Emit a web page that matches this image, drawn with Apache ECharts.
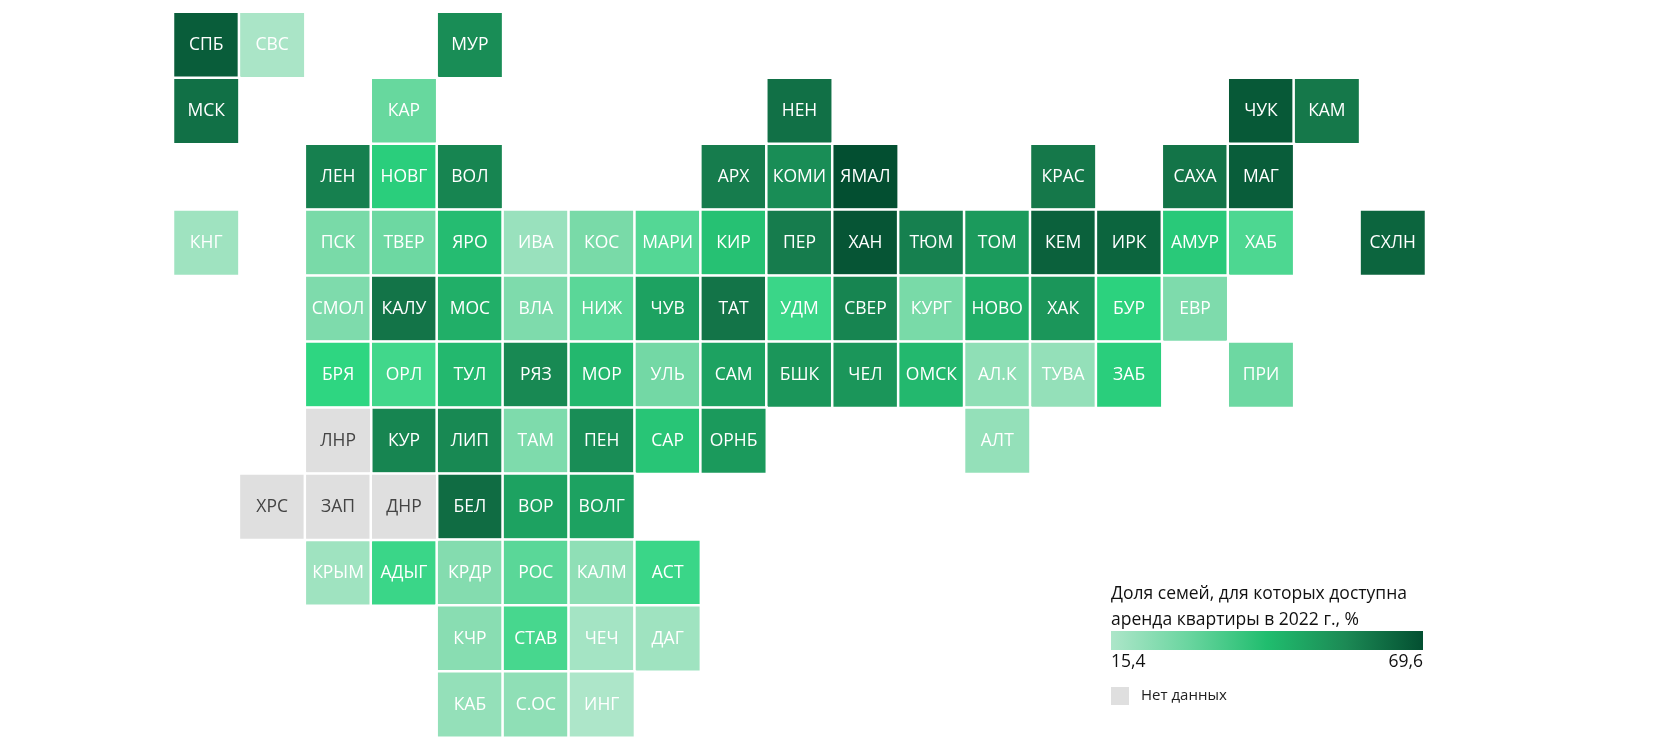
<!DOCTYPE html>
<html>
<head>
<meta charset="utf-8">
<style>
html,body{margin:0;padding:0;background:#fff}
#chart{width:1659px;height:750px}
</style>
<script src="https://cdn.jsdelivr.net/npm/echarts@6/dist/echarts.min.js"></script>
</head>
<body>
<div id="chart"></div>
<script>
// подписи, колонка и ряд плитки, значение (null - нет данных)
var regionNames = ['СПБ','СВС','МУР',
    'МСК','КАР','НЕН','ЧУК','КАМ',
    'ЛЕН','НОВГ','ВОЛ','АРХ','КОМИ','ЯМАЛ','КРАС','САХА','МАГ',
    'КНГ','ПСК','ТВЕР','ЯРО','ИВА','КОС','МАРИ','КИР','ПЕР','ХАН','ТЮМ','ТОМ','КЕМ','ИРК','АМУР','ХАБ','СХЛН',
    'СМОЛ','КАЛУ','МОС','ВЛА','НИЖ','ЧУВ','ТАТ','УДМ','СВЕР','КУРГ','НОВО','ХАК','БУР','ЕВР',
    'БРЯ','ОРЛ','ТУЛ','РЯЗ','МОР','УЛЬ','САМ','БШК','ЧЕЛ','ОМСК','АЛ.К','ТУВА','ЗАБ','ПРИ',
    'ЛНР','КУР','ЛИП','ТАМ','ПЕН','САР','ОРНБ','АЛТ',
    'ХРС','ЗАП','ДНР','БЕЛ','ВОР','ВОЛГ',
    'КРЫМ','АДЫГ','КРДР','РОС','КАЛМ','АСТ',
    'КЧР','СТАВ','ЧЕЧ','ДАГ',
    'КАБ','С.ОС','ИНГ'];
var regionCols = [0,1,4,
    0,3,9,16,17,
    2,3,4,8,9,10,13,15,16,
    0,2,3,4,5,6,7,8,9,10,11,12,13,14,15,16,18,
    2,3,4,5,6,7,8,9,10,11,12,13,14,15,
    2,3,4,5,6,7,8,9,10,11,12,13,14,16,
    2,3,4,5,6,7,8,12,
    1,2,3,4,5,6,
    2,3,4,5,6,7,
    4,5,6,7,
    4,5,6];
var regionRows = [0,0,0,
    1,1,1,1,1,
    2,2,2,2,2,2,2,2,2,
    3,3,3,3,3,3,3,3,3,3,3,3,3,3,3,3,3,
    4,4,4,4,4,4,4,4,4,4,4,4,4,4,
    5,5,5,5,5,5,5,5,5,5,5,5,5,5,
    6,6,6,6,6,6,6,6,
    7,7,7,7,7,7,
    8,8,8,8,8,8,
    9,9,9,9,
    10,10,10];
var regionValues = [66,16,54,
    61,28,61,67,59,
    57,39,56,58,54,69.6,59,60,66,
    18,25,27,43,19,25,31,42,58,68,57,51,65,64,40,32,64,
    24,60,46,24,30,49,60,35,56,25,46,52,38,24,
    37,34,44,55,44,26,49,52,52,44,21,20,39,27,
    null,56,55,24,54,41,51,20,
    null,null,null,62,49,49,
    18,35,23,30,21,35,
    22,33,17,18,
    20,21,15.4];
var colNames = [];
for(var i=0;i<19;i++){ colNames.push(String(i)); }
var rowNames = [];
for(var j=0;j<11;j++){ rowNames.push(String(j)); }
// равномерные опорные цвета шкалы
var scaleColors = ['#ade6c9','#72d8a4','#2dd681','#1ea763','#15794b','#034f31'];
// полоса в легенде идет чуть спокойнее, чем плитки
var legendColors = ['#ade6c9','#69d59f','#20bd6e','#1c8a55','#034f31'];
var minLabel = '15,4';
var maxLabel = '69,6';
var legendTitle = 'Доля семей, для которых доступна\nаренда квартиры в 2022 г., %';
var noDataName = 'Нет данных';

var withData = [];
var noData = [];
regionNames.forEach(function(name,k){
    var item = {name:name, value:[regionCols[k],regionRows[k],regionValues[k]]};
    if(regionValues[k]===null){
        item.value = [regionCols[k],regionRows[k],0];
        noData.push(item);
    }else{
        withData.push(item);
    }
});

var gradientStops = legendColors.map(function(c,k){
    return {offset:k/(legendColors.length-1),color:c};
});

var myChart = echarts.init(document.getElementById('chart'));
var fontName = '"Open Sans"';
var option = {
    animation:false,
    textStyle:{fontFamily:fontName},
    grid:{left:173.25,top:12,width:1252.5,height:725.5},
    xAxis:{type:'category',data:colNames,show:false},
    yAxis:{type:'category',data:rowNames,inverse:true,show:false},
    title:{
        text:legendTitle,left:1111,top:581,padding:0,
        textStyle:{fontFamily:fontName,fontSize:17.5,fontWeight:'normal',color:'#111',lineHeight:26}
    },
    visualMap:{
        type:'continuous',seriesIndex:0,min:15.4,max:69.6,show:false,
        inRange:{color:scaleColors}
    },
    legend:{
        data:[noDataName],left:1111,top:687,padding:0,
        itemWidth:18,itemHeight:18,itemGap:0,icon:'rect',selectedMode:false,
        itemStyle:{borderWidth:0},
        textStyle:{fontFamily:fontName,fontSize:15,color:'#222',padding:[0,0,0,7]}
    },
    graphic:[
        {type:'rect',left:1111,top:631,shape:{width:312,height:19},
            style:{fill:new echarts.graphic.LinearGradient(0,0,1,0,gradientStops)}},
        {type:'text',left:1111,top:653,style:{text:minLabel,fontFamily:fontName,fontSize:17.5,fill:'#111'}},
        {type:'text',right:1659-1423,top:653,style:{text:maxLabel,fontFamily:fontName,fontSize:17.5,fill:'#111'}}
    ],
    series:[
        {
            type:'heatmap',data:withData,
            itemStyle:{borderColor:'#fff',borderWidth:2.5},
            label:{show:true,formatter:'{b}',color:'#fff',fontFamily:fontName,fontSize:17.5}
        },
        {
            type:'heatmap',name:noDataName,data:noData,
            itemStyle:{color:'#dfdfdf',borderColor:'#fff',borderWidth:2.5},
            label:{show:true,formatter:'{b}',color:'#444',fontFamily:fontName,fontSize:17.5}
        }
    ]
};
myChart.setOption(option);
</script>
</body>
</html>
